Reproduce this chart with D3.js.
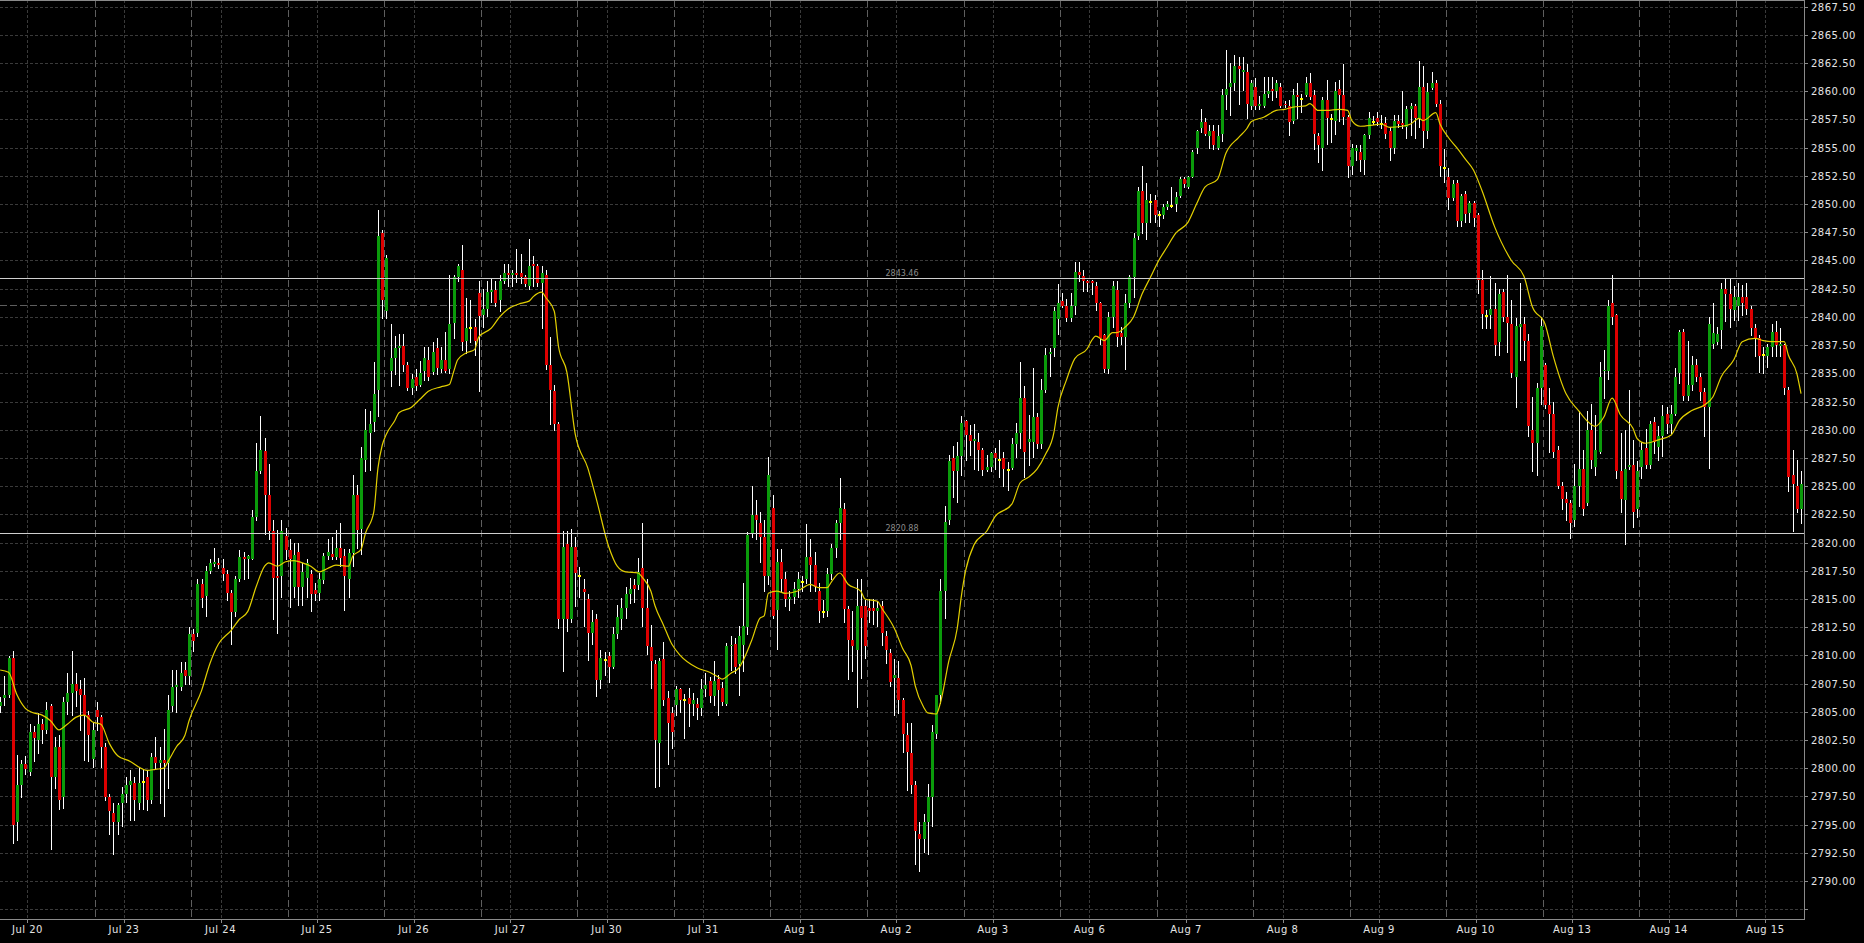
<!DOCTYPE html>
<html><head><meta charset="utf-8">
<script src="https://cdn.jsdelivr.net/npm/d3@7"></script>
<style>
html,body{margin:0;padding:0;background:#000;overflow:hidden}
svg{display:block}
text{font-family:"DejaVu Sans",sans-serif}
</style></head><body>
<svg id="chart" width="1864" height="943"></svg>
<script>
// ---------- data ----------
const dayLabels = ["Jul 20","Jul 23","Jul 24","Jul 25","Jul 26","Jul 27","Jul 30","Jul 31","Aug 1","Aug 2","Aug 3","Aug 6","Aug 7","Aug 8","Aug 9","Aug 10","Aug 13","Aug 14","Aug 15"];
const barsPerDay = 23;
const priceTicks = [2787.5,2790,2792.5,2795,2797.5,2800,2802.5,2805,2807.5,2810,2812.5,2815,2817.5,2820,2822.5,2825,2827.5,2830,2832.5,2835,2837.5,2840,2842.5,2845,2847.5,2850,2852.5,2855,2857.5,2860,2862.5,2865,2867.5];
const levelLines = [2843.46, 2820.88];
const levelLabels = ["2843.46", "2820.88"];
const dashedLevels = [2841.05];

const openByDay = [
[2805.5,2806.2,2806.5,2809.8,2795.2,2798.5,2800.4,2799.7,2803.2,2802.5,2803.9,2803.4,2805.5,2799.2,2801.9,2797.4,2805.9,2806.7,2807.5,2807.0,2806.5,2804.7,2800.8],
[2805.2,2804.5,2801.9,2797.4,2796.0,2795.2,2796.9,2797.7,2798.5,2798.7,2796.9,2798.9,2799.2,2797.2,2801.0,2800.5,2800.7,2800.5,2805.5,2807.2,2807.2,2808.7,2808.2],
[2811.9,2812.0,2816.3,2815.3,2817.5,2818.1,2818.2,2817.7,2817.2,2815.5,2813.8,2816.8,2818.7,2818.5,2818.5,2822.3,2826.3,2828.1,2824.2,2821.0,2817.0,2817.0,2820.6],
[2819.3,2816.1,2819.2,2816.1,2816.9,2817.2,2815.8,2815.5,2816.7,2818.8,2819.0,2818.7,2819.5,2818.8,2816.8,2819.1,2824.2,2821.2,2827.3,2829.7,2830.7,2833.5,2847.4],
[2840.5,2835.2,2836.4,2837.2,2837.4,2835.7,2833.7,2834.7,2834.0,2835.2,2836.2,2835.1,2837.2,2835.4,2836.2,2835.4,2839.5,2843.5,2844.2,2837.9,2839.1,2839.1,2842.1],
[2840.2,2840.7,2842.2,2842.4,2841.5,2843.2,2843.9,2843.7,2843.9,2843.9,2843.5,2842.7,2844.7,2844.5,2843.0,2843.7,2835.7,2833.4,2830.5,2813.2,2819.9,2813.2,2819.6],
[2817.1,2815.9,2815.0,2812.0,2813.2,2807.8,2809.7,2809.9,2809.0,2811.9,2813.2,2814.2,2815.4,2816.2,2816.2,2817.7,2814.2,2810.7,2809.2,2802.2,2809.7,2806.2,2804.9],
[2805.6,2807.0,2806.1,2806.2,2805.7,2805.7,2805.3,2807.0,2807.7,2806.4,2807.9,2807.1,2805.7,2810.8,2811.0,2809.2,2810.9,2812.5,2820.8,2822.4,2821.7,2820.5,2817.0],
[2823.1,2814.0,2818.3,2816.8,2815.0,2815.2,2815.9,2816.6,2816.8,2818.7,2818.0,2815.7,2813.9,2813.9,2817.2,2819.5,2821.7,2823.0,2814.1,2811.4,2810.5,2814.4,2814.4],
[2814.2,2814.2,2813.9,2814.4,2811.7,2810.2,2808.0,2808.0,2806.0,2802.9,2801.3,2798.5,2794.2,2793.7,2795.2,2797.4,2803.0,2806.5,2815.7,2822.0,2827.5,2826.3,2827.7],
[2830.8,2829.5,2829.0,2828.9,2828.2,2826.4,2826.7,2827.9,2827.4,2827.5,2826.5,2826.6,2828.7,2829.7,2832.8,2828.9,2828.9,2831.1,2828.7,2833.5,2836.7,2837.2,2839.8],
[2841.4,2841.0,2839.9,2841.0,2844.0,2843.6,2843.2,2843.2,2842.7,2841.2,2838.4,2835.4,2840.0,2842.4,2838.6,2838.2,2841.2,2843.5,2847.2,2851.2,2848.3,2850.3,2850.4],
[2849.1,2849.0,2849.7,2849.9,2850.0,2850.7,2852.2,2851.5,2852.4,2855.0,2856.7,2857.3,2856.0,2856.5,2855.0,2856.2,2859.7,2860.4,2860.7,2862.2,2861.7,2861.7,2858.7],
[2860.4,2858.7,2858.7,2859.8,2860.2,2860.0,2860.4,2858.9,2858.7,2857.4,2859.7,2859.4,2859.7,2860.7,2859.7,2856.0,2855.0,2859.2,2857.6,2857.4,2860.2,2859.7,2857.7],
[2853.4,2854.7,2854.6,2853.9,2856.1,2857.4,2857.6,2857.2,2857.2,2856.5,2855.0,2857.4,2857.2,2856.8,2858.4,2858.7,2857.6,2860.4,2856.5,2860.3,2860.7,2858.9,2853.3],
[2852.4,2850.5,2851.9,2848.5,2850.9,2849.2,2850.1,2849.0,2843.3,2840.2,2840.2,2840.7,2837.8,2842.2,2840.0,2839.4,2834.7,2839.1,2839.4,2837.9,2830.0,2828.8,2833.7],
[2835.7,2832.2,2831.4,2828.2,2825.0,2823.9,2823.5,2822.0,2825.0,2826.5,2823.5,2830.0,2826.7,2828.0,2835.2,2835.2,2841.2,2840.2,2826.3,2823.8,2826.7,2826.9,2823.0],
[2826.7,2828.4,2826.9,2830.7,2828.5,2829.4,2831.4,2830.5,2831.4,2835.0,2838.7,2833.0,2834.0,2835.7,2834.7,2833.3,2832.0,2837.6,2837.8,2838.8,2842.5,2842.0,2840.6],
[2841.0,2841.8,2841.8,2840.7,2839.0,2838.1,2836.7,2836.5,2837.3,2838.7,2837.4,2837.5,2833.5,2826.0,2825.0,2823.0]
];
const highByDay = [
[2806.3,2808.2,2809.9,2810.4,2801.2,2800.7,2801.1,2803.9,2803.7,2804.9,2804.4,2805.9,2805.7,2802.8,2802.9,2806.3,2808.4,2810.4,2808.4,2807.8,2808.0,2805.1,2804.0],
[2805.9,2804.7,2802.2,2797.7,2796.9,2796.9,2798.3,2799.2,2799.8,2799.2,2800.0,2799.8,2799.8,2801.3,2802.8,2801.9,2803.5,2806.5,2808.7,2808.7,2809.4,2809.4,2812.5],
[2812.3,2816.8,2816.8,2817.9,2818.5,2819.5,2818.6,2818.5,2817.6,2815.8,2817.0,2819.3,2819.2,2818.9,2822.9,2828.8,2831.2,2829.3,2827.0,2822.0,2821.1,2822.0,2821.3],
[2820.3,2820.0,2820.0,2818.2,2818.5,2817.6,2816.4,2817.3,2819.1,2820.3,2820.5,2821.1,2821.7,2819.4,2819.4,2826.0,2825.1,2828.5,2831.8,2831.7,2836.0,2849.5,2847.7],
[2845.5,2839.4,2838.3,2838.5,2838.5,2836.0,2834.9,2835.4,2836.1,2837.3,2837.3,2837.8,2838.1,2837.3,2838.7,2843.7,2843.7,2844.7,2846.4,2841.7,2841.5,2839.8,2843.2],
[2842.5,2843.2,2843.4,2843.2,2843.7,2844.7,2844.7,2844.2,2846.0,2845.6,2843.7,2846.9,2845.4,2844.7,2844.5,2844.2,2838.2,2834.0,2830.7,2821.0,2821.0,2821.2,2820.5],
[2817.8,2816.8,2815.4,2814.0,2813.7,2810.5,2810.3,2810.3,2812.5,2814.5,2815.1,2816.1,2816.9,2816.8,2818.6,2821.7,2816.8,2812.7,2809.6,2809.8,2811.2,2806.8,2805.4],
[2807.3,2807.1,2806.6,2807.1,2806.7,2806.2,2807.9,2808.4,2808.1,2809.5,2808.3,2807.6,2811.1,2811.7,2811.5,2812.6,2816.4,2820.9,2825.0,2823.8,2822.7,2822.0,2827.6],
[2824.2,2819.4,2819.4,2817.4,2815.7,2816.5,2817.4,2817.0,2821.6,2820.3,2819.2,2816.4,2814.9,2817.7,2819.9,2822.0,2825.7,2823.5,2814.4,2813.9,2816.8,2816.8,2814.9],
[2815.0,2815.0,2814.8,2814.8,2812.2,2810.6,2809.7,2809.5,2806.2,2804.0,2804.0,2798.9,2795.2,2795.9,2798.6,2803.8,2806.5,2816.8,2823.2,2827.8,2828.6,2828.9,2831.2],
[2830.9,2830.4,2830.5,2829.7,2828.4,2827.8,2828.0,2828.4,2829.1,2828.0,2827.1,2829.3,2830.6,2836.0,2833.9,2831.3,2835.5,2831.5,2834.5,2837.2,2837.2,2840.9,2842.9],
[2842.1,2841.6,2842.1,2844.9,2844.9,2844.2,2843.3,2843.3,2843.1,2841.3,2838.5,2840.4,2843.2,2843.2,2839.1,2842.0,2843.7,2847.4,2851.5,2853.4,2851.9,2850.9,2850.8],
[2849.4,2850.0,2850.3,2851.5,2851.1,2852.4,2852.4,2852.5,2854.8,2856.6,2858.4,2857.6,2857.0,2857.0,2857.0,2860.2,2863.7,2862.5,2863.2,2863.0,2863.0,2862.4,2861.0],
[2861.2,2859.6,2861.3,2861.3,2861.3,2861.0,2860.7,2859.1,2859.2,2860.2,2860.7,2859.8,2861.3,2861.6,2860.1,2856.3,2859.5,2861.0,2858.0,2860.8,2861.0,2862.4,2857.9],
[2855.3,2855.2,2855.2,2856.2,2858.2,2857.8,2858.2,2857.9,2857.7,2856.8,2857.9,2857.9,2860.0,2858.7,2859.0,2858.9,2862.7,2862.2,2860.7,2861.7,2861.0,2859.2,2854.9],
[2853.2,2852.1,2852.1,2850.9,2851.2,2850.3,2850.3,2849.2,2844.2,2840.6,2843.6,2843.0,2842.5,2842.5,2843.7,2841.5,2839.9,2843.0,2840.0,2838.5,2832.9,2834.1,2840.0],
[2835.9,2833.7,2832.5,2828.6,2825.4,2824.5,2823.8,2827.0,2831.7,2828.2,2831.7,2832.3,2831.3,2836.0,2837.1,2841.5,2843.7,2840.3,2829.7,2830.0,2833.5,2829.1,2827.2],
[2828.9,2830.1,2830.8,2831.1,2830.3,2832.2,2832.0,2832.2,2835.5,2838.8,2838.9,2837.9,2836.5,2836.3,2835.0,2833.7,2840.0,2841.2,2839.1,2843.0,2843.4,2843.4,2842.7],
[2843.0,2842.8,2843.0,2841.0,2839.4,2838.4,2837.3,2837.6,2839.4,2839.6,2839.0,2837.6,2833.8,2828.2,2827.3,2826.3]
];
const lowByDay = [
[2805.0,2805.6,2806.3,2793.4,2793.6,2797.4,2799.5,2799.4,2800.6,2801.3,2802.2,2803.1,2792.8,2798.2,2796.4,2796.5,2804.8,2804.7,2805.5,2803.4,2800.7,2800.6,2800.1],
[2803.4,2800.1,2797.2,2794.2,2792.4,2794.2,2794.9,2797.0,2795.4,2795.4,2796.4,2796.4,2796.3,2796.9,2800.0,2796.9,2795.8,2798.2,2805.1,2805.0,2806.9,2807.5,2807.5],
[2810.4,2811.7,2814.3,2813.5,2817.3,2817.9,2817.7,2816.7,2814.9,2811.0,2813.5,2816.6,2816.8,2816.9,2818.5,2822.0,2826.2,2820.8,2820.3,2813.2,2812.0,2815.2,2818.5],
[2814.3,2815.2,2814.5,2814.5,2815.2,2813.9,2814.9,2814.9,2816.4,2818.5,2818.5,2818.5,2817.9,2814.0,2815.2,2817.9,2819.5,2819.0,2826.3,2826.4,2829.9,2831.2,2839.9],
[2839.9,2833.9,2834.9,2834.0,2835.2,2833.5,2833.2,2833.5,2833.9,2834.4,2834.4,2834.9,2834.9,2835.1,2835.1,2835.0,2838.1,2843.2,2837.1,2836.8,2837.8,2836.6,2833.4],
[2839.1,2840.1,2841.3,2841.0,2840.5,2843.0,2842.7,2842.7,2843.1,2843.0,2842.7,2842.5,2842.7,2842.7,2839.0,2835.4,2830.5,2830.0,2812.4,2808.6,2812.2,2813.0,2814.4],
[2815.2,2812.6,2809.6,2811.0,2806.4,2807.1,2808.3,2807.6,2808.9,2811.5,2812.3,2813.3,2814.6,2814.7,2815.9,2812.6,2810.1,2807.1,2798.3,2798.4,2805.6,2800.4,2801.8],
[2804.7,2805.0,2802.7,2803.7,2804.7,2804.4,2804.7,2806.4,2805.9,2805.6,2804.7,2805.6,2805.6,2808.7,2808.4,2806.5,2808.6,2811.9,2820.5,2820.3,2818.3,2815.7,2816.3],
[2813.3,2810.6,2815.7,2814.4,2814.0,2814.6,2815.2,2815.7,2816.4,2815.7,2815.7,2813.0,2813.4,2813.5,2816.8,2818.7,2820.3,2813.0,2807.9,2808.6,2805.4,2808.0,2809.8],
[2813.0,2812.8,2812.6,2810.9,2809.3,2807.3,2804.7,2804.9,2801.4,2798.1,2797.8,2791.5,2790.9,2792.6,2792.4,2794.9,2802.7,2805.8,2813.3,2821.6,2824.0,2823.6,2826.0],
[2827.3,2827.8,2826.5,2826.4,2826.0,2826.3,2826.3,2826.5,2825.8,2825.0,2824.7,2826.5,2827.6,2828.4,2825.8,2826.9,2827.6,2828.4,2828.4,2833.3,2834.8,2836.5,2838.5],
[2840.9,2839.6,2839.6,2840.3,2843.2,2842.3,2842.3,2842.0,2840.6,2837.6,2835.1,2835.0,2839.1,2837.4,2837.6,2835.4,2840.9,2841.8,2846.9,2847.4,2846.9,2848.4,2848.4],
[2848.1,2848.8,2849.6,2849.7,2849.4,2850.6,2851.5,2851.4,2852.4,2854.5,2856.4,2856.1,2855.0,2854.9,2854.9,2855.6,2858.4,2857.9,2860.1,2858.9,2860.1,2857.6,2858.4],
[2858.4,2858.4,2858.6,2859.5,2859.2,2859.5,2858.6,2858.6,2856.1,2857.2,2857.6,2858.2,2859.6,2859.3,2854.9,2853.7,2853.0,2855.3,2855.5,2856.2,2857.4,2857.1,2852.4],
[2852.7,2853.9,2852.9,2852.7,2855.9,2857.1,2857.0,2856.7,2855.9,2853.9,2854.5,2856.8,2856.7,2855.9,2856.1,2855.9,2856.8,2855.1,2855.9,2860.2,2858.7,2852.5,2852.0],
[2849.6,2850.4,2848.1,2848.1,2848.4,2848.4,2848.1,2842.1,2839.0,2839.0,2839.0,2836.6,2836.6,2839.6,2836.9,2834.7,2832.0,2836.2,2836.2,2829.4,2826.3,2826.0,2832.3],
[2831.9,2828.0,2827.6,2824.8,2823.0,2822.0,2820.4,2821.5,2823.2,2822.4,2823.3,2826.6,2826.0,2827.9,2832.8,2834.5,2839.4,2825.7,2822.7,2819.9,2826.5,2821.4,2822.3],
[2825.7,2826.6,2826.6,2827.9,2827.3,2827.7,2829.7,2829.7,2831.3,2834.1,2832.6,2832.6,2833.5,2834.3,2832.6,2829.4,2826.6,2837.2,2837.6,2837.2,2839.6,2839.1,2839.7],
[2839.7,2840.2,2840.3,2838.4,2836.5,2835.1,2835.0,2835.6,2836.5,2836.5,2836.5,2833.2,2824.6,2821.0,2822.7,2821.7]
];
const closeByDay = [
[2805.9,2806.5,2809.8,2795.0,2798.5,2800.4,2799.9,2803.2,2802.7,2803.9,2803.4,2805.2,2799.2,2801.9,2797.2,2805.9,2806.7,2807.5,2806.8,2806.5,2804.7,2802.9,2803.4],
[2804.5,2801.9,2797.4,2796.2,2795.2,2796.7,2797.7,2798.5,2798.9,2797.2,2798.7,2798.9,2797.2,2801.0,2800.5,2800.7,2800.5,2805.2,2807.2,2807.4,2808.4,2808.2,2811.9],
[2811.3,2816.3,2815.1,2817.5,2818.2,2818.3,2818.0,2817.2,2815.5,2813.8,2816.8,2818.7,2818.5,2818.8,2822.3,2826.3,2828.2,2824.2,2821.0,2816.9,2816.9,2821.0,2819.3],
[2818.5,2818.9,2816.1,2817.4,2818.2,2815.4,2815.4,2816.8,2818.8,2819.2,2818.7,2819.5,2818.6,2817.0,2819.1,2824.2,2821.1,2827.5,2830.0,2830.5,2833.2,2847.2,2841.5],
[2845.2,2836.4,2837.2,2837.4,2835.7,2833.7,2834.5,2833.9,2835.0,2836.4,2834.7,2836.9,2835.5,2836.2,2835.2,2839.4,2843.5,2844.5,2837.8,2839.0,2839.1,2837.9,2840.1],
[2840.7,2842.2,2842.4,2841.2,2843.2,2843.9,2843.7,2843.9,2843.7,2843.5,2842.9,2844.5,2844.5,2843.0,2843.9,2835.7,2833.5,2830.5,2813.2,2819.6,2813.2,2819.6,2817.3],
[2817.1,2815.6,2812.0,2813.0,2807.8,2809.8,2809.7,2809.0,2811.9,2813.4,2814.2,2815.4,2815.9,2815.9,2817.4,2814.2,2810.8,2809.5,2802.5,2809.5,2806.0,2804.0,2803.2],
[2807.0,2806.0,2806.1,2805.7,2806.0,2805.3,2807.0,2807.4,2806.4,2807.7,2806.9,2805.9,2810.8,2810.9,2809.0,2811.7,2812.6,2820.7,2822.4,2822.0,2820.5,2817.0,2826.0],
[2813.5,2818.3,2816.8,2815.0,2815.2,2815.9,2816.8,2816.6,2818.7,2818.0,2816.1,2813.9,2813.9,2817.2,2819.5,2821.7,2823.1,2814.1,2811.4,2810.8,2814.4,2813.3,2810.8],
[2813.9,2813.9,2814.2,2812.0,2810.5,2807.6,2808.3,2806.0,2803.0,2801.4,2798.5,2794.4,2793.7,2795.2,2797.4,2803.2,2806.5,2815.7,2821.8,2827.2,2826.3,2827.7,2830.6],
[2829.5,2829.0,2829.2,2828.2,2826.4,2826.7,2827.9,2827.5,2827.4,2826.5,2826.5,2828.7,2829.7,2832.8,2828.0,2829.2,2831.1,2828.7,2833.5,2836.6,2836.9,2840.5,2841.2],
[2841.0,2839.9,2841.0,2844.0,2843.7,2843.2,2843.0,2843.0,2841.2,2838.1,2835.4,2840.0,2842.7,2838.2,2838.2,2841.2,2843.5,2847.0,2851.2,2848.3,2850.4,2850.3,2849.0],
[2849.1,2849.7,2850.0,2849.9,2850.6,2852.2,2851.8,2852.4,2854.6,2856.5,2857.3,2856.2,2856.5,2855.2,2856.0,2859.7,2860.2,2860.7,2862.2,2862.0,2861.9,2858.9,2860.7],
[2858.7,2858.9,2859.8,2860.0,2860.0,2860.7,2858.7,2858.8,2857.3,2859.7,2859.5,2859.4,2860.7,2859.5,2856.2,2855.2,2859.2,2857.6,2857.6,2860.0,2859.7,2857.7,2853.4],
[2855.0,2855.0,2853.9,2856.1,2857.6,2857.4,2857.3,2857.2,2856.2,2855.0,2857.4,2857.1,2857.0,2858.4,2858.7,2857.6,2860.4,2856.5,2859.9,2860.7,2858.9,2853.4,2853.3],
[2850.5,2851.8,2848.5,2850.7,2849.1,2850.1,2848.8,2843.3,2840.3,2840.2,2840.7,2837.5,2842.0,2840.0,2839.5,2835.0,2839.2,2839.4,2837.9,2830.3,2828.8,2833.7,2839.2],
[2832.2,2831.4,2828.0,2825.0,2823.9,2823.5,2821.7,2825.0,2826.5,2823.0,2830.0,2827.3,2828.2,2834.7,2835.3,2841.0,2840.0,2826.3,2823.9,2826.5,2826.9,2822.7,2826.3],
[2828.2,2826.9,2830.5,2828.9,2829.4,2831.2,2830.5,2831.4,2834.7,2838.7,2833.0,2834.0,2835.7,2834.7,2833.3,2832.0,2839.4,2838.6,2838.5,2842.5,2842.0,2840.7,2841.8],
[2841.8,2841.2,2840.7,2839.0,2838.1,2836.5,2836.7,2837.3,2838.7,2837.5,2837.6,2833.7,2825.8,2825.2,2823.0,2825.2]
];
// moving average: bar index, value
const maBar = [0,2,4,6,8,10,12,14,16,18,20,22,24,26,28,31,33,35,37,39,40,42,44,45,48,50,52,55,57,59,61,63,64,66,68,70,72,74,76,78,80,83,84,86,87,89,90,91,92,94,95,98,100,102,105,107,108,109,111,113,114,117,119,121,124,126,127,129,130,132,133,135,137,140,142,145,147,149,152,153,155,156,158,160,162,166,169,171,172,174,176,179,181,182,183,185,187,190,193,195,197,198,200,202,205,206,209,210,213,215,217,218,220,221,223,224,226,228,229,230,232,235,237,241,243,245,247,249,251,252,254,256,259,260,261,263,265,266,268,270,272,274,276,278,280,283,285,287,290,292,295,297,298,301,304,306,308,311,312,314,316,319,321,322,324,327,329,331,334,336,338,339,342,343,345,347,349,351,353,356,360,363,365,368,370,373,376,378,380,382,384,386,389,390,392,395,398,400,403,406,408,410,413,415,418,420,422,425,426,428,429];
const maValue = [2808.7,2808.5,2806.5,2805.3,2804.9,2804.7,2804.2,2803.4,2803.9,2804.5,2804.7,2804.1,2803.9,2802.2,2801.1,2800.6,2800.1,2799.8,2799.9,2800.0,2800.6,2801.9,2802.9,2804.2,2806.9,2809.3,2811.0,2812.2,2813.2,2813.9,2816.1,2817.9,2818.2,2817.9,2818.3,2818.4,2818.2,2817.9,2817.4,2817.7,2818.0,2817.9,2818.8,2819.4,2820.8,2822.7,2826.6,2828.6,2829.6,2830.8,2831.5,2832.0,2832.7,2833.4,2833.8,2834.0,2835.1,2836.2,2836.8,2837.1,2838.2,2839.0,2840.0,2840.7,2841.2,2841.4,2841.8,2842.2,2841.7,2840.5,2837.4,2835.1,2829.6,2826.6,2823.9,2819.6,2817.9,2817.4,2817.3,2816.9,2815.7,2814.4,2812.7,2811.0,2810.0,2808.9,2808.5,2808.1,2807.9,2808.4,2808.9,2811.3,2813.3,2813.5,2815.5,2815.7,2815.5,2815.7,2816.3,2816.0,2816.0,2816.5,2817.3,2816.3,2815.7,2815.0,2814.8,2814.2,2812.4,2810.6,2809.1,2807.3,2805.4,2804.9,2804.8,2805.8,2809.5,2812.4,2815.3,2817.5,2819.8,2821.0,2822.3,2823.4,2825.3,2825.8,2826.5,2827.8,2829.7,2832.0,2834.4,2836.3,2837.2,2837.9,2838.3,2837.9,2838.6,2838.6,2839.1,2840.0,2842.0,2843.5,2845.0,2846.2,2847.4,2848.4,2850.0,2851.5,2852.2,2854.5,2855.9,2856.7,2857.3,2857.7,2858.3,2858.4,2858.6,2858.7,2858.9,2858.3,2858.3,2858.4,2858.3,2857.4,2856.9,2857.0,2857.1,2856.8,2856.9,2857.1,2857.6,2857.4,2858.1,2857.1,2855.9,2855.0,2854.0,2853.0,2851.2,2848.0,2845.0,2843.6,2840.9,2839.4,2836.5,2833.2,2831.7,2830.8,2830.3,2831.1,2832.8,2831.3,2830.1,2829.2,2828.8,2829.1,2829.5,2830.8,2831.7,2832.2,2832.9,2834.7,2836.2,2837.8,2838.1,2837.9,2837.8,2837.8,2836.6,2835.0,2833.2];

// ---------- layout ----------
const plotRight = 1804, plotBottom = 919;
const barCount = barsPerDay * (dayLabels.length - 1) + openByDay[openByDay.length - 1].length;
const bars = [];
openByDay.forEach((day, d) => day.forEach((o, j) => {
  bars.push({i: d * barsPerDay + j, o, h: highByDay[d][j], l: lowByDay[d][j], c: closeByDay[d][j]});
}));

const x = d3.scaleLinear().domain([0, 429]).range([0.15, 0.15 + 429 * 4.1978]);
const y = d3.scaleLinear().domain([2786.63, 2868.09]).range([plotBottom, 0]);

const svg = d3.select("#chart");
svg.append("rect").attr("width", 1864).attr("height", 943).attr("fill", "#000");
svg.append("defs").append("clipPath").attr("id", "plotClip")
  .append("rect").attr("x", 0).attr("y", 0).attr("width", plotRight).attr("height", plotBottom);

const plot = svg.append("g").attr("clip-path", "url(#plotClip)");
const px = v => Math.round(v) + 0.5;

// horizontal grid
plot.append("g").selectAll("line").data(priceTicks).join("line")
  .attr("x1", 0).attr("x2", plotRight)
  .attr("y1", d => px(y(d))).attr("y2", d => px(y(d)))
  .attr("stroke", "#3a3a3a").attr("stroke-dasharray", "3,2").attr("shape-rendering", "crispEdges");
// vertical grid at date labels
const labelPos = dayLabels.map((t, d) => ({t, x: x(d * barsPerDay + 6.5)}));
plot.append("g").selectAll("line").data(labelPos).join("line")
  .attr("x1", d => px(d.x)).attr("x2", d => px(d.x))
  .attr("y1", 0).attr("y2", plotBottom)
  .attr("stroke", "#3a3a3a").attr("stroke-dasharray", "3,2").attr("shape-rendering", "crispEdges");
// day separators
const sepIdx = d3.range(1, dayLabels.length).map(k => k * barsPerDay - 0.5);
plot.append("g").selectAll("line").data(sepIdx).join("line")
  .attr("x1", d => px(x(d))).attr("x2", d => px(x(d)))
  .attr("y1", 0).attr("y2", plotBottom)
  .attr("stroke", "#5e5e5e").attr("stroke-dasharray", "7,3").attr("shape-rendering", "crispEdges");
// dashed horizontal level
plot.append("g").selectAll("line").data(dashedLevels).join("line")
  .attr("x1", 0).attr("x2", plotRight)
  .attr("y1", d => px(y(d))).attr("y2", d => px(y(d)))
  .attr("stroke", "#5e5e5e").attr("stroke-dasharray", "7,3").attr("shape-rendering", "crispEdges");

// candles
const cg = plot.append("g").attr("shape-rendering", "crispEdges");
cg.selectAll("line").data(bars).join("line")
  .attr("x1", d => Math.round(x(d.i)) + 0.5).attr("x2", d => Math.round(x(d.i)) + 0.5)
  .attr("y1", d => Math.round(y(d.h))).attr("y2", d => Math.round(y(d.l)) + 1)
  .attr("stroke", "#ffffff").attr("stroke-width", 1);
cg.selectAll("rect").data(bars).join("rect")
  .attr("x", d => Math.round(x(d.i)) - 1)
  .attr("width", 3)
  .attr("y", d => Math.round(y(Math.max(d.o, d.c))))
  .attr("height", d => d.o === d.c ? 2 : Math.max(1, Math.round(y(Math.min(d.o, d.c))) - Math.round(y(Math.max(d.o, d.c)))))
  .attr("fill", d => d.o === d.c ? "#ffff00" : (d.c > d.o ? "#0b9b0b" : "#dd0000"));

// moving average
const maPts = maBar.map((b, k) => [b, maValue[k]]);
plot.append("path").datum(maPts)
  .attr("d", d3.line().x(d => x(d[0])).y(d => y(d[1])).curve(d3.curveMonotoneX))
  .attr("fill", "none").attr("stroke", "#e2cf00").attr("stroke-width", 1.2);

// level lines
plot.append("g").selectAll("line").data(levelLines).join("line")
  .attr("x1", 0).attr("x2", plotRight)
  .attr("y1", d => px(y(d))).attr("y2", d => px(y(d)))
  .attr("stroke", "#cfcfcf").attr("shape-rendering", "crispEdges");
plot.append("g").selectAll("text").data(levelLines).join("text")
  .attr("x", 902).attr("y", d => Math.round(y(d)) - 2)
  .attr("text-anchor", "middle").attr("font-size", "8px").attr("fill", "#8c8c8c")
  .text((d, k) => levelLabels[k]);

// frame
const frame = svg.append("g").attr("stroke", "#8a8a8a").attr("shape-rendering", "crispEdges");
frame.append("line").attr("x1", 0).attr("x2", plotRight + 0.5).attr("y1", 0.5).attr("y2", 0.5);
frame.append("line").attr("x1", plotRight + 0.5).attr("x2", plotRight + 0.5).attr("y1", 0).attr("y2", plotBottom + 0.5);
frame.append("line").attr("x1", 0).attr("x2", plotRight + 0.5).attr("y1", plotBottom + 0.5).attr("y2", plotBottom + 0.5);

// y axis ticks and labels
const fmt = d3.format(".2f");
svg.append("g").selectAll("line").data(priceTicks).join("line")
  .attr("x1", plotRight).attr("x2", plotRight + 4)
  .attr("y1", d => px(y(d))).attr("y2", d => px(y(d)))
  .attr("stroke", "#8a8a8a").attr("shape-rendering", "crispEdges");
svg.append("g").selectAll("text").data(priceTicks.filter(t => y(t) > 5 && y(t) < plotBottom - 14)).join("text")
  .attr("x", 1811).attr("y", d => Math.round(y(d)) + 4)
  .attr("font-size", "10px").attr("letter-spacing", "0.5px").attr("fill", "#e4e4e4")
  .text(d => fmt(d));

// x axis ticks and labels
svg.append("g").selectAll("line").data(labelPos).join("line")
  .attr("x1", d => px(d.x)).attr("x2", d => px(d.x))
  .attr("y1", plotBottom).attr("y2", plotBottom + 4)
  .attr("stroke", "#8a8a8a").attr("shape-rendering", "crispEdges");
svg.append("g").selectAll("text").data(labelPos).join("text")
  .attr("x", d => d.x).attr("y", 933)
  .attr("text-anchor", "middle").attr("font-size", "10px").attr("letter-spacing", "0.5px").attr("fill", "#e4e4e4")
  .text(d => d.t);

// data sanity check (debug)
const bad = openByDay.map((d, k) => [k, d.length, highByDay[k].length, lowByDay[k].length, closeByDay[k].length])
  .filter(r => r[0] < openByDay.length - 1 ? r.slice(1).some(n => n !== 23) : r.slice(1).some(n => n !== 16));
if (bad.length) svg.append("text").attr("x", 20).attr("y", 20).attr("fill", "#f0f").text("BAD " + JSON.stringify(bad));
</script>
</body></html>
